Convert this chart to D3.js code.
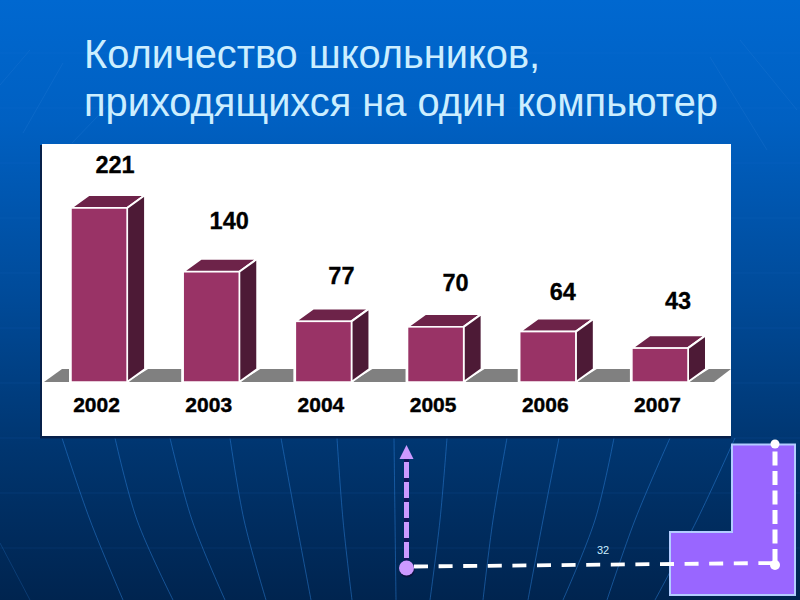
<!DOCTYPE html>
<html><head><meta charset="utf-8">
<script src="https://cdn.jsdelivr.net/npm/d3@7"></script>
<style>html,body{margin:0;padding:0;background:#003}svg{display:block}</style>
</head><body><div id="c"></div>
<script>
const categories=["2002","2003","2004","2005","2006","2007"];
const values=[221,140,77,70,64,43];
const titleLines=["Количество школьников,","приходящихся на один компьютер"];
const pageNumber="32";
const labelNudgeX=[16,18,18,20,15,18];
const labelGap=[35,43,37,36,32,39];

const svg=d3.select("#c").append("svg").attr("width",800).attr("height",600);
const defs=svg.append("defs");
const g=defs.append("linearGradient").attr("id","bg").attr("x1",0).attr("x2",0).attr("y1",0).attr("y2",1);
[[0,"#0068d0"],[0.2,"#0060c2"],[0.5,"#004a98"],[0.75,"#00356f"],[1,"#00244f"]].forEach(s=>g.append("stop").attr("offset",s[0]).attr("stop-color",s[1]));
svg.append("rect").attr("width",800).attr("height",600).attr("fill","url(#bg)");

// background globe lines
const line=d3.line();
const curve=d3.line().curve(d3.curveCatmullRom);
const grid=svg.append("g").attr("fill","none").attr("stroke","#2c7fd8");
d3.range(0,11).forEach(i=>grid.append("line").attr("x1",0).attr("x2",800).attr("y1",53+55*i).attr("y2",53+55*i).attr("stroke-opacity",.12));
const lowerMeridians=[[62,90,123],[115,137,173],[170,192,225],[230,244,266],[281,296,311],[337,343,352],[394,395,396],[447,440,430],[507,493,483],[559,543,528],[614,595,563],[670,635,607],[735,697,655]];
lowerMeridians.forEach(m=>grid.append("path").attr("stroke-opacity",.5).attr("d",curve([[m[0],438],[m[1],520],[m[2],600]])));
const upperArcs=[[[63,63],[23,133]],[[30,50],[0,85]],[[118,95],[72,143]],[[710,57],[767,150]],[[740,40],[797,110]],[[0,543],[30,600]]];
upperArcs.forEach(a=>grid.append("path").attr("stroke-opacity",.25).attr("d",line(a)));

// panel
svg.append("rect").attr("x",40).attr("y",145).attr("width",691).attr("height",293.5).attr("fill","#06204a");
svg.append("rect").attr("x",42).attr("y",144).attr("width",689).attr("height",292).attr("fill","#fff");

const x=d3.scaleBand().domain(categories).range([71,688]).paddingInner(0.5).paddingOuter(0);
const y=d3.scaleLinear().domain([0,221]).range([382,208]);
const dx=18,dy=-13;

// floor
svg.append("path").attr("fill","#808080").attr("d",line([[44,y(0)],[44+dx,y(0)+dy],[731,y(0)+dy],[714,y(0)]])+"Z");

const bars=svg.append("g").selectAll("g").data(values).join("g");
const xOf=(d,i)=>x(categories[i]);
const w=x.bandwidth();
bars.append("rect").attr("x",(d,i)=>xOf(d,i)-2).attr("y",y(0)+dy).attr("width",w+4).attr("height",-dy).attr("fill","#fff");
bars.append("path").attr("fill","#fff").attr("d",(d,i)=>{const a=xOf(d,i)+w;return line([[a,y(0)],[a+dx+3,y(0)+dy],[a,y(0)+dy]])+"Z";});
bars.append("path").attr("fill","#6d2349").attr("stroke","#fff").attr("stroke-width",2).attr("stroke-linejoin","round")
  .attr("d",(d,i)=>{const a=xOf(d,i),t=y(d);return line([[a,t],[a+dx,t+dy],[a+w+dx,t+dy],[a+w,t]])+"Z";});
bars.append("path").attr("fill","#4d1a36").attr("stroke","#fff").attr("stroke-width",2).attr("stroke-linejoin","round")
  .attr("d",(d,i)=>{const a=xOf(d,i)+w,t=y(d);return line([[a,t],[a+dx,t+dy],[a+dx,y(0)+dy],[a,y(0)]])+"Z";});
bars.append("rect").attr("x",(d,i)=>xOf(d,i)).attr("y",d=>y(d)).attr("width",w).attr("height",d=>y(0)-y(d)).attr("fill","#993366").attr("stroke","#fff").attr("stroke-width",1.5);

const font="'Liberation Sans',Arial,sans-serif";
svg.append("g").selectAll("text").data(values).join("text")
  .attr("x",(d,i)=>xOf(d,i)+w/2+labelNudgeX[i]).attr("y",(d,i)=>y(d)-labelGap[i])
  .attr("text-anchor","middle").attr("font-family",font).attr("font-weight","bold").attr("font-size",23.5).attr("fill","#000").attr("stroke","#000").attr("stroke-width",.3).text(d=>d);
svg.append("g").selectAll("text").data(categories).join("text")
  .attr("x",d=>x(d)+w/2-2.5).attr("y",412)
  .attr("text-anchor","middle").attr("font-family",font).attr("font-weight","bold").attr("font-size",21).attr("fill","#000").attr("stroke","#000").attr("stroke-width",.4).text(d=>d);

// title
svg.append("g").selectAll("text").data(titleLines).join("text")
  .attr("x",84).attr("y",(d,i)=>68+i*48).attr("font-family",font).attr("font-size",39.8).attr("fill","#cceeff").text(d=>d);
svg.append("text").attr("x",603).attr("y",554).attr("text-anchor","middle").attr("font-family",font).attr("font-size",11).attr("fill","#cceeff").text(pageNumber);

// decorative shape bottom right
svg.append("path").attr("fill","#9966ff").attr("stroke","#b3ccff").attr("stroke-width",2)
 .attr("d",line([[732,444.5],[795,444.5],[795,595],[670,595],[670,532],[732,532]])+"Z");
svg.append("line").attr("x1",414).attr("y1",566.5).attr("x2",775).attr("y2",563).attr("stroke","#fff").attr("stroke-width",3.8).attr("stroke-dasharray","14 10.6");
svg.append("line").attr("x1",775).attr("y1",563).attr("x2",775).attr("y2",444).attr("stroke","#fff").attr("stroke-width",5).attr("stroke-dasharray","14 5.5");
svg.append("circle").attr("cx",775).attr("cy",444).attr("r",4.5).attr("fill","#fff");
svg.append("circle").attr("cx",775).attr("cy",565).attr("r",5).attr("fill","#fff");
svg.append("line").attr("x1",406.5).attr("y1",565).attr("x2",406.5).attr("y2",458).attr("stroke","#14145a").attr("stroke-width",5);
svg.append("line").attr("x1",406.5).attr("y1",558).attr("x2",406.5).attr("y2",458).attr("stroke","#cc99ff").attr("stroke-width",5).attr("stroke-dasharray","16 4");
svg.append("path").attr("fill","#cc99ff").attr("d",line([[406.5,445],[399.5,459],[413.5,459]])+"Z");
svg.append("circle").attr("cx",407).attr("cy",570).attr("r",7.5).attr("fill","#0a1440");
svg.append("circle").attr("cx",406.5).attr("cy",568).attr("r",7.5).attr("fill","#cc99ff");
</script></body></html>
